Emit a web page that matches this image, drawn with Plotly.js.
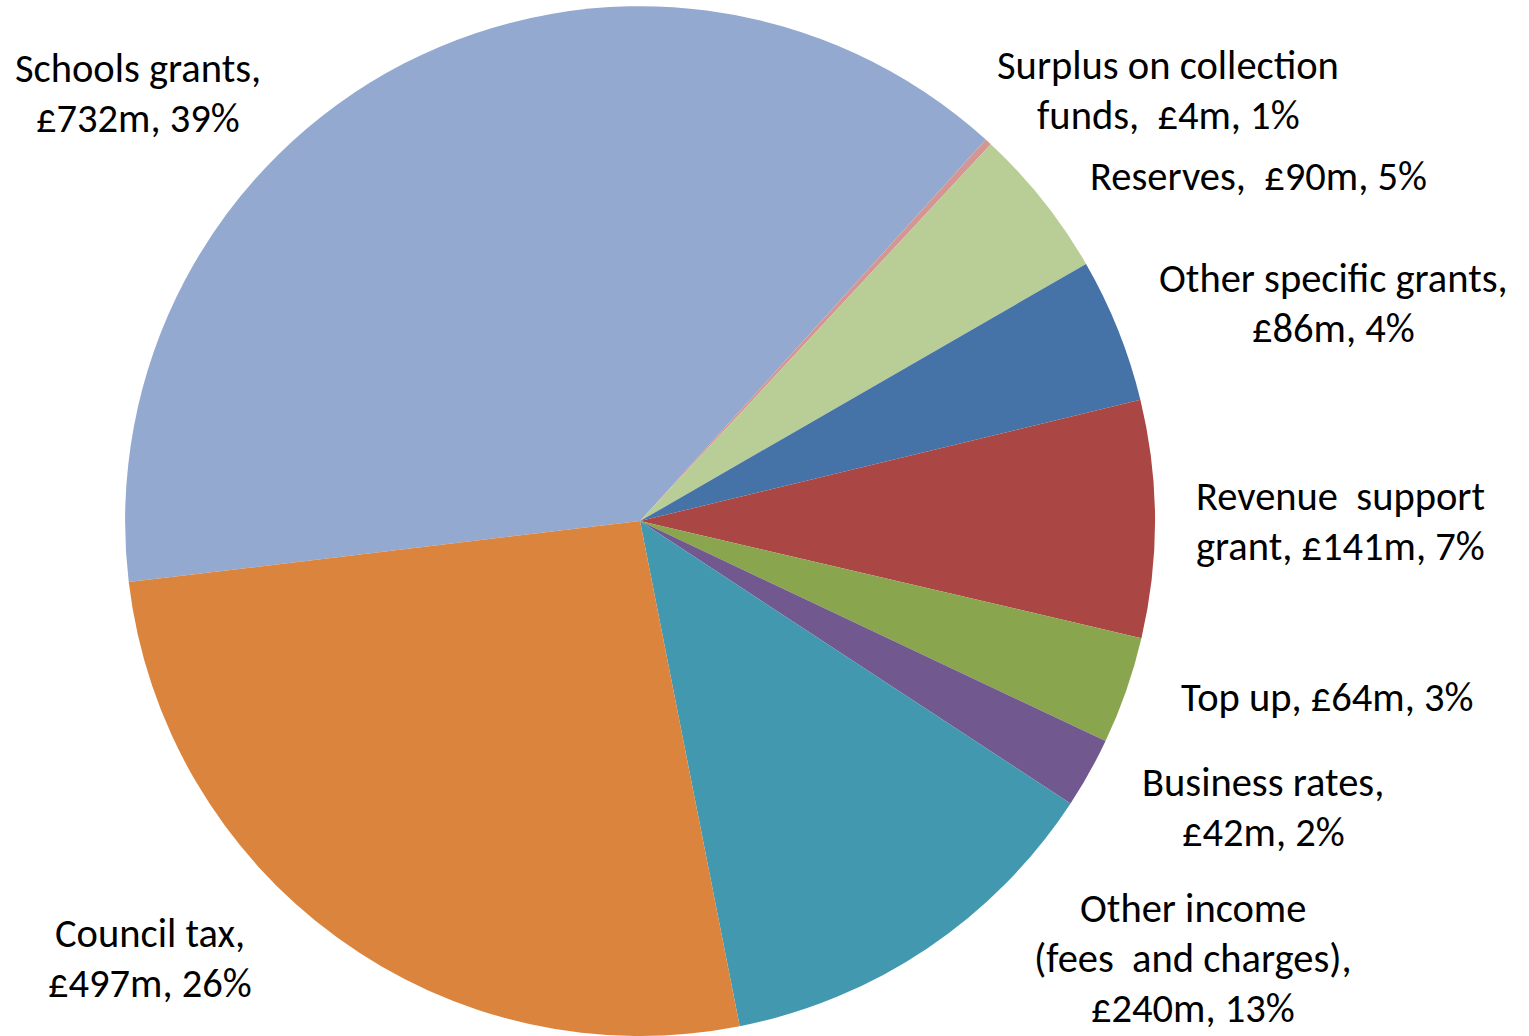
<!DOCTYPE html>
<html>
<head>
<meta charset="utf-8">
<script src="https://cdn.plot.ly/plotly-3.0.1.min.js"></script>
<style>html,body{margin:0;padding:0;background:#fff;}#chart{width:1529px;height:1036px;}</style>
</head>
<body>
<div id="chart"></div>
<script>
// Data (clockwise from Schools grants)
var categories = ["Schools grants", "Surplus on collection funds", "Reserves", "Other specific grants",
  "Revenue support grant", "Top up", "Business rates", "Other income (fees and charges)", "Council tax"];
var valuesM = [732, 4, 90, 86, 141, 64, 42, 240, 497];
var pctLabels = ["39%", "1%", "5%", "4%", "7%", "3%", "2%", "13%", "26%"];
var labelLines = [
  ["Schools grants,", "£732m, 39%"],
  ["Surplus on collection", "funds,  £4m, 1%"],
  ["Reserves,  £90m, 5%"],
  ["Other specific grants,", "£86m, 4%"],
  ["Revenue  support", "grant, £141m, 7%"],
  ["Top up, £64m, 3%"],
  ["Business rates,", "£42m, 2%"],
  ["Other income", "(fees  and charges),", "£240m, 13%"],
  ["Council tax,", "£497m, 26%"]
];
var colors = ["#94A9D0", "#D49693", "#B9CD96", "#4572A7", "#AA4643", "#89A54E", "#71588F", "#4198AF", "#DB843D"];

// label block centre positions (pixels) – layout only
var labelPos = [[138, 93], [1168, 90], [1258, 176], [1333, 303], [1340, 521], [1327, 697], [1263, 807], [1193, 958], [150, 958]];
var LINE = 50;

var W = 1529, H = 1036;
var FONT = "Carlito, Calibri, Lato, sans-serif";

var annotations = [];
labelLines.forEach(function (lines, i) {
  var n = lines.length;
  lines.forEach(function (ln, j) {
    var py = labelPos[i][1] + (j - (n - 1) / 2) * LINE;
    annotations.push({
      text: ln,
      x: labelPos[i][0] / W, y: 1 - py / H,
      xref: "paper", yref: "paper", xanchor: "center", yanchor: "middle",
      align: "center", showarrow: false,
      font: {family: FONT, size: 40.5, color: "#000000"}
    });
  });
});

var trace = {
  type: "pie",
  labels: categories,
  values: valuesM,
  sort: false,
  direction: "clockwise",
  rotation: 263.2,
  textinfo: "none",
  hoverinfo: "label+value+percent",
  marker: {colors: colors, line: {width: 0}},
  domain: {x: [125 / W, 1155 / W], y: [0, 0.994]}
};

Plotly.newPlot("chart", [trace], {
  width: W, height: H,
  margin: {l: 0, r: 0, t: 0, b: 0},
  paper_bgcolor: "#ffffff",
  showlegend: false,
  annotations: annotations
}, {staticPlot: true});
</script>
</body>
</html>
